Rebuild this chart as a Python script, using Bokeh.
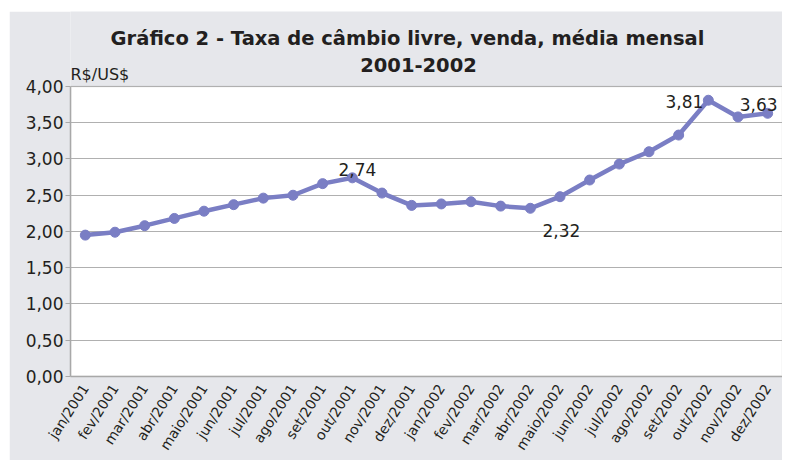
from bokeh.plotting import figure
from bokeh.layouts import row, column
from bokeh.models import (FactorRange, Range1d, SingleIntervalTicker, CustomJSTickFormatter,
                          Spacer, BoxAnnotation)
from bokeh.core.properties import value
from bokeh.embed import file_html
from bokeh.resources import INLINE

months = ["jan/2001", "fev/2001", "mar/2001", "abr/2001", "maio/2001", "jun/2001",
          "jul/2001", "ago/2001", "set/2001", "out/2001", "nov/2001", "dez/2001",
          "jan/2002", "fev/2002", "mar/2002", "abr/2002", "maio/2002", "jun/2002",
          "jul/2002", "ago/2002", "set/2002", "out/2002", "nov/2002", "dez/2002"]
rates = [1.95, 1.99, 2.08, 2.18, 2.28, 2.37, 2.46, 2.50, 2.66, 2.74, 2.53, 2.36,
         2.38, 2.41, 2.35, 2.32, 2.48, 2.71, 2.93, 3.10, 3.33, 3.81, 3.58, 3.63]

title1 = "Gráfico 2 - Taxa de câmbio livre, venda, média mensal"
title2 = "2001-2002"
unit_label = "R$/US$"
y_max = 4.0

FONT = "DejaVu Sans"
BG = "#e6e7eb"
LINE = "#7a7ec4"
TXT = "#231f20"
FRAME = "#a8a8a8"

# frame spans the whole upper area; the white plotting area is the 0..4 band
p = figure(width=773, height=449, output_backend="svg", toolbar_location=None,
           x_range=FactorRange(factors=months, range_padding=0),
           y_range=Range1d(0, 5.034),
           min_border_left=61, min_border_right=0, min_border_top=0, min_border_bottom=84)

p.border_fill_color = BG
p.background_fill_color = BG
p.outline_line_color = None

plot_area = BoxAnnotation(bottom=0, top=y_max, fill_color="white", fill_alpha=1.0,
                          line_color=FRAME, line_width=1.5, level="image")
p.add_layout(plot_area)

p.xgrid.grid_line_color = None
p.ygrid.grid_line_color = "#b0b0b0"
p.ygrid.grid_line_width = 1.2
p.ygrid.bounds = (0, y_max)

p.yaxis.bounds = (0, y_max)
p.yaxis.ticker = SingleIntervalTicker(interval=0.5, num_minor_ticks=0)
p.yaxis.formatter = CustomJSTickFormatter(code="return tick.toFixed(2).replace('.', ',');")
p.yaxis.axis_line_color = FRAME
p.yaxis.axis_line_width = 1.5
p.yaxis.major_tick_line_color = FRAME
p.yaxis.major_tick_in = 0
p.yaxis.major_tick_out = 5
p.yaxis.minor_tick_line_color = None
p.yaxis.major_label_text_font = FONT
p.yaxis.major_label_text_font_size = "17px"
p.yaxis.major_label_text_color = TXT
p.yaxis.major_label_standoff = 2

p.xaxis.axis_line_color = FRAME
p.xaxis.axis_line_width = 1.5
p.xaxis.major_tick_line_color = None
p.xaxis.major_label_orientation = 1.0
p.xaxis.major_label_text_font = FONT
p.xaxis.major_label_text_font_size = "14px"
p.xaxis.major_label_text_color = TXT
p.xaxis.major_label_standoff = 3

p.line(months, rates, line_color=LINE, line_width=4.5)
p.scatter(months, rates, size=10, fill_color=LINE, line_color=LINE)

def vlabel(i, txt, align, xo, yo):
    p.text(x=[months[i]], y=[rates[i]], text=[txt], text_font=value(FONT),
           text_font_size="17px", text_color=TXT, text_align=align,
           text_baseline="alphabetic", x_offset=xo, y_offset=yo)

vlabel(months.index("out/2001"), "2,74", "center", 5, -8)
vlabel(months.index("abr/2002"), "2,32", "center", 31, 22)
vlabel(months.index("out/2002"), "3,81", "right", -5, 1)
vlabel(months.index("dez/2002"), "3,63", "center", -9, -9)

# titles and unit label, drawn in the grey band above the plotting area
p.text(x=[11.36], y=[4.662], text=[title1], text_font=value(FONT), text_font_size="19.5px",
       text_font_style="bold", text_color=TXT, text_align="center", text_baseline="alphabetic")
p.text(x=[11.73], y=[4.29], text=[title2], text_font=value(FONT), text_font_size="19.5px",
       text_font_style="bold", text_color=TXT, text_align="center", text_baseline="alphabetic")
p.text(x=[0], y=[4.166], text=[unit_label], text_font=value(FONT), text_font_size="16px",
       text_color=TXT, text_align="left", text_baseline="alphabetic")

layout = row(Spacer(width=9), column(Spacer(height=11), p))
open("out.html", "w").write(file_html(layout, INLINE))
